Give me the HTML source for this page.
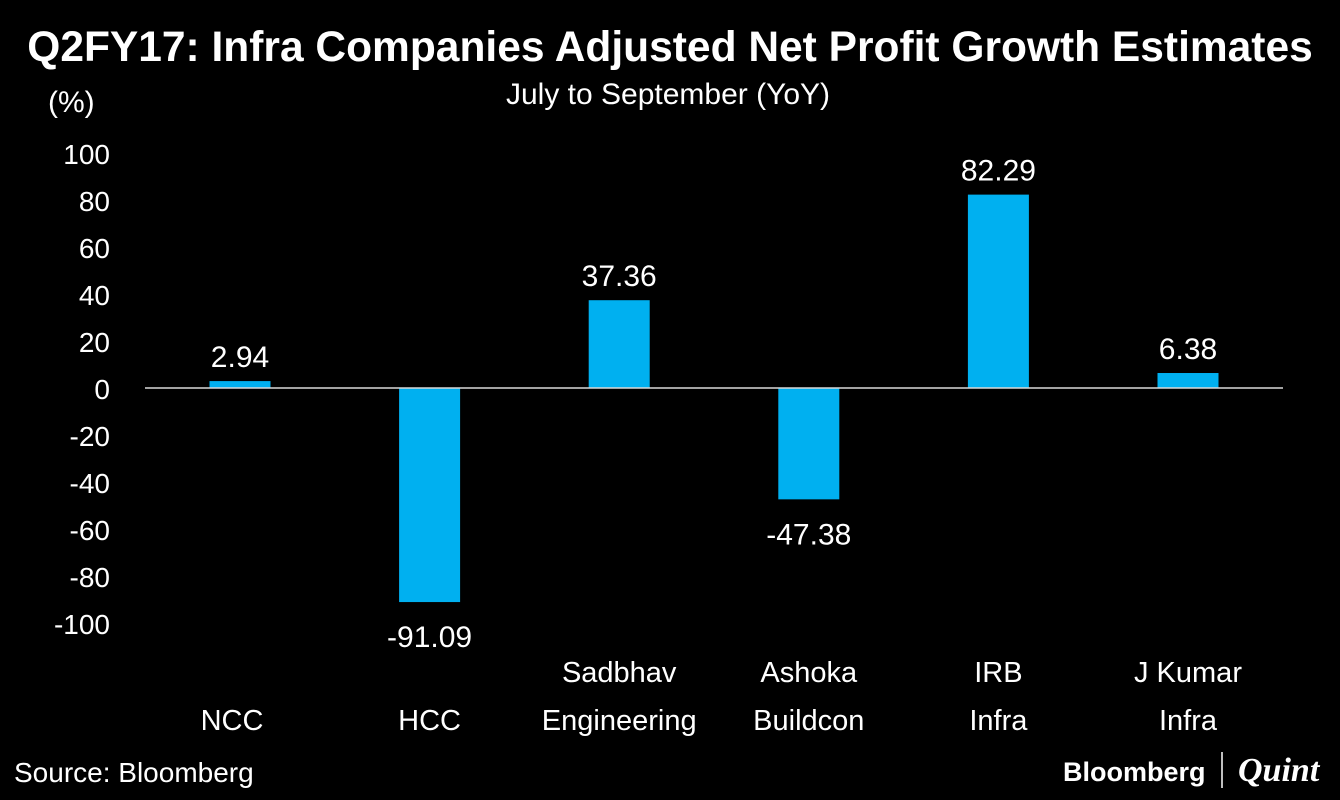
<!DOCTYPE html>
<html><head><meta charset="utf-8"><style>
body{margin:0;background:#000;width:1340px;height:800px;overflow:hidden;font-family:"Liberation Sans","DejaVu Sans",sans-serif;color:#fff}
svg{display:block}
</style></head><body>
<svg id="c" width="1340" height="800">
<text x="670" y="61" text-anchor="middle" font-size="42.5" font-weight="bold" fill="#fff">Q2FY17:  Infra Companies Adjusted Net Profit Growth Estimates</text>
<text x="668" y="104" text-anchor="middle" font-size="30" fill="#fff">July to September (YoY)</text>
<text x="48" y="112" font-size="30" fill="#fff">(%)</text>
<text x="14" y="782" font-size="28" fill="#fff">Source: Bloomberg</text>
<text x="1063" y="781" font-size="27" font-weight="bold" fill="#fff">Bloomberg</text>
<line x1="1222" y1="752" x2="1222" y2="788" stroke="#fff" stroke-width="1.5"/>
<text x="1238" y="781" font-size="34" font-style="italic" font-weight="bold" font-family="Liberation Serif,serif" fill="#fff">Quint</text>
<g id="g"></g>
</svg>
<script>
const categories=[["NCC"],["HCC"],["Sadbhav","Engineering"],["Ashoka","Buildcon"],["IRB","Infra"],["J Kumar","Infra"]];
const values=[2.94,-91.09,37.36,-47.38,82.29,6.38];
const valueLabels=["2.94","-91.09","37.36","-47.38","82.29","6.38"];
const yTicks=[100,80,60,40,20,0,-20,-40,-60,-80,-100];
const NS="http://www.w3.org/2000/svg";
const g=document.getElementById('g');
const y=v=>388-v*2.35;
const x=i=>240+i*189.6;
const bw=61;
function mk(t,a){const e=document.createElementNS(NS,t);for(const k in a)e.setAttribute(k,a[k]);g.appendChild(e);return e;}
yTicks.forEach(t=>{const e=mk('text',{x:110,y:y(t)+11,'text-anchor':'end','font-size':28,fill:'#fff'});e.textContent=t;

});
values.forEach((v,i)=>{
const r=mk('rect',{x:x(i)-bw/2,y:Math.min(y(v),y(0)),width:bw,height:Math.abs(y(v)-y(0)),fill:'#00b0f0'});


const ly=v>=0?y(v)-14:y(v)+45;
const l=mk('text',{x:x(i),y:ly,'text-anchor':'middle','font-size':30,fill:'#fff'});l.textContent=valueLabels[i];


const lines=categories[i];
lines.forEach((s,j)=>{const base=lines.length==1?730:682;
const c=mk('text',{x:x(i)+(i==0?-8:0),y:base+j*48,'text-anchor':'middle','font-size':29,fill:'#fff'});c.textContent=s;

});
});
const ax=mk('line',{x1:145,x2:1283,y1:y(0),y2:y(0),stroke:'#d9d9d9','stroke-width':1.5});


</script>
</body></html>
